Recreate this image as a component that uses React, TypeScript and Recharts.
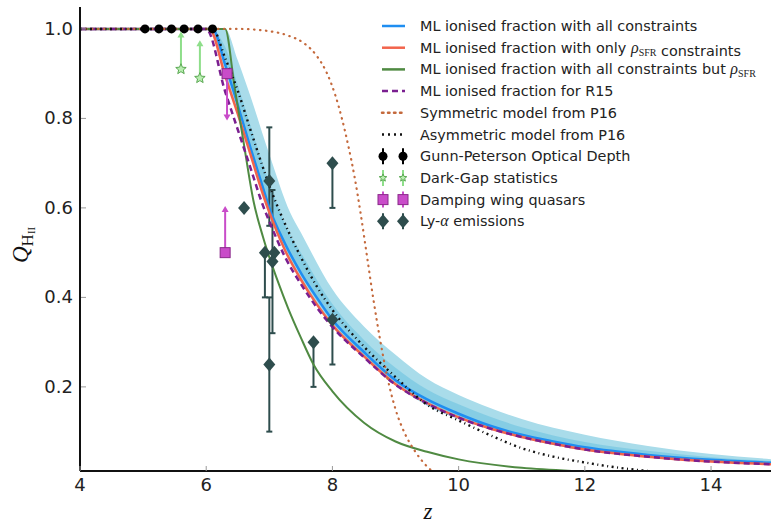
import { ComposedChart, Line, Area, Scatter, XAxis, YAxis, ErrorBar } from 'recharts';

const X_TICKS = [4, 6, 8, 10, 12, 14];
const Y_TICKS = [0.2, 0.4, 0.6, 0.8, 1.0];

// ML ionised fraction with all constraints
const allZ = [4, 6.1, 6.3, 6.5, 6.7, 6.9, 7.0, 7.25, 7.5, 7.75, 8.0, 8.5, 9.0, 9.5, 10, 10.5, 11, 11.5, 12, 13, 14, 15];
const allQ = [1, 1, 0.92, 0.83, 0.735, 0.645, 0.6, 0.52, 0.455, 0.4, 0.35, 0.278, 0.215, 0.172, 0.14, 0.113, 0.093, 0.078, 0.065, 0.048, 0.037, 0.03];

// only rho_SFR constraints
const sfrZ = [4, 6.05, 6.3, 6.5, 6.7, 6.9, 7.0, 7.25, 7.5, 7.75, 8.0, 8.5, 9.0, 9.5, 10, 10.5, 11, 11.5, 12, 13, 14, 15];
const sfrQ = [1, 1, 0.895, 0.81, 0.72, 0.63, 0.59, 0.505, 0.44, 0.385, 0.338, 0.268, 0.206, 0.164, 0.132, 0.107, 0.088, 0.073, 0.06, 0.044, 0.033, 0.027];

// all constraints but rho_SFR
const noSfrZ = [4, 6.3, 6.45, 6.6, 6.75, 6.9, 7.0, 7.15, 7.3, 7.5, 7.7, 8.0, 8.5, 9.0, 9.5, 10, 11, 12, 13, 15];
const noSfrQ = [1, 1, 0.87, 0.74, 0.615, 0.535, 0.49, 0.43, 0.375, 0.31, 0.25, 0.19, 0.12, 0.078, 0.055, 0.038, 0.019, 0.011, 0.006, 0.002];

// R15
const r15Z = [4, 6.0, 6.3, 6.5, 6.7, 6.9, 7.0, 7.25, 7.5, 7.75, 8.0, 8.5, 9.0, 9.5, 10, 10.5, 11, 11.5, 12, 13, 14, 15];
const r15Q = [1, 1, 0.86, 0.775, 0.69, 0.605, 0.57, 0.49, 0.43, 0.378, 0.334, 0.266, 0.205, 0.163, 0.131, 0.107, 0.088, 0.073, 0.06, 0.044, 0.033, 0.027];

// P16 models
const symZ = [4, 6.5, 7.0, 7.3, 7.55, 7.75, 7.9, 8.05, 8.15, 8.25, 8.35, 8.45, 8.55, 8.65, 8.75, 8.85, 9.0, 9.15, 9.3, 9.5, 9.7];
const symQ = [1, 1, 0.995, 0.985, 0.968, 0.94, 0.905, 0.85, 0.8, 0.74, 0.67, 0.585, 0.49, 0.395, 0.31, 0.235, 0.15, 0.095, 0.058, 0.022, 0.0];
const asymZ = [4, 6.1, 6.3, 6.5, 6.7, 6.9, 7.0, 7.2, 7.5, 7.75, 8.0, 8.5, 9.0, 9.5, 10, 10.5, 11, 11.5, 12, 12.5, 13, 13.5];
const asymQ = [1, 1, 0.935, 0.862, 0.775, 0.69, 0.65, 0.58, 0.49, 0.425, 0.372, 0.29, 0.222, 0.16, 0.125, 0.092, 0.063, 0.044, 0.031, 0.02, 0.012, 0.006];

// confidence bands around the all-constraints curve
const bandZ = [6.1, 6.3, 6.5, 6.7, 7.0, 7.33, 7.5, 8.0, 8.5, 9.0, 9.5, 10, 10.5, 11, 12, 13, 14, 15];
const outerLo = [1, 0.9, 0.81, 0.72, 0.59, 0.48, 0.44, 0.338, 0.266, 0.204, 0.158, 0.128, 0.105, 0.086, 0.058, 0.043, 0.032, 0.026];
const outerHi = [1, 1, 0.93, 0.85, 0.72, 0.59, 0.545, 0.418, 0.335, 0.272, 0.218, 0.182, 0.153, 0.128, 0.093, 0.068, 0.05, 0.038];
const innerLo = [1, 0.915, 0.825, 0.73, 0.595, 0.49, 0.45, 0.345, 0.272, 0.21, 0.166, 0.134, 0.11, 0.09, 0.061, 0.045, 0.034, 0.028];
const innerHi = [1, 0.96, 0.875, 0.785, 0.655, 0.54, 0.5, 0.385, 0.305, 0.243, 0.194, 0.161, 0.133, 0.11, 0.077, 0.057, 0.043, 0.034];

// observations
const gpZ = [5.03, 5.25, 5.45, 5.65, 5.87, 6.1];
const gpQ = [1, 1, 1, 1, 1, 1];

const darkGapZ = [5.6, 5.9];
const darkGapQ = [0.91, 0.89];
const darkGapUp = [0.08, 0.08];

const dampZ = [6.33, 6.3];
const dampQ = [0.9, 0.5];
const dampDown = [0.1, 0];
const dampUp = [0, 0.1];

const lyaZ = [6.6, 7.0, 6.93, 7.08, 7.05, 7.0, 7.7, 8.0, 8.0];
const lyaQ = [0.6, 0.66, 0.5, 0.5, 0.48, 0.25, 0.3, 0.7, 0.35];
const lyaLo = [0, 0.1, 0.1, 0, 0.16, 0.15, 0.1, 0.1, 0.1];
const lyaHi = [0, 0.12, 0, 0, 0.16, 0.15, 0, 0, 0];

const curve = (zs: number[], qs: number[]) => zs.map((z, i) => ({ z, q: qs[i] }));
const band = (lo: number[], hi: number[]) => bandZ.map((z, i) => ({ z, band: [lo[i], hi[i]] }));

const FONT = '"DejaVu Sans", sans-serif';
const SERIF = '"Liberation Serif", "DejaVu Serif", serif';

const C = {
  all: '#1f8ef1',
  sfr: '#f2644c',
  noSfr: '#4f8a42',
  r15: '#7a1f90',
  sym: '#c4693c',
  asym: '#111111',
  outer: '#a9dcea',
  inner: '#7cc9e2',
  gp: '#000000',
  dgFill: '#b8eeb0',
  dgEdge: '#5aa852',
  dgArrow: '#8ede8a',
  damp: '#c94cc9',
  dampEdge: '#8a2a8a',
  lya: '#2e4d4d',
};

const starPath = (cx: number, cy: number, r: number) => {
  let d = '';
  for (let i = 0; i < 10; i++) {
    const rr = i % 2 === 0 ? r : r * 0.45;
    const a = -Math.PI / 2 + (i * Math.PI) / 5;
    d += `${i === 0 ? 'M' : 'L'}${cx + rr * Math.cos(a)},${cy + rr * Math.sin(a)}`;
  }
  return d + 'Z';
};

const Circle = ({ cx, cy }: any) => <circle cx={cx} cy={cy} r={4.5} fill={C.gp} />;
const Star = ({ cx, cy }: any) => <path d={starPath(cx, cy, 5.5)} fill={C.dgFill} stroke={C.dgEdge} strokeWidth={1} />;
const Square = ({ cx, cy }: any) => (
  <rect x={cx - 5} y={cy - 5} width={10} height={10} fill={C.damp} stroke={C.dampEdge} strokeWidth={1} />
);
const Diamond = ({ cx, cy }: any) => (
  <path d={`M${cx},${cy - 7}L${cx + 6},${cy}L${cx},${cy + 7}L${cx - 6},${cy}Z`} fill={C.lya} />
);
const caret = (color: string, up: boolean) => ({ cx, cy }: any) =>
  up ? (
    <path d={`M${cx - 3.5},${cy + 4}L${cx},${cy - 2}L${cx + 3.5},${cy + 4}Z`} fill={color} />
  ) : (
    <path d={`M${cx - 3.5},${cy - 4}L${cx},${cy + 2}L${cx + 3.5},${cy - 4}Z`} fill={color} />
  );

const YTick = ({ x, y, payload }: any) => (
  <g>
    <line x1={x + 8} x2={x + 13} y1={y} y2={y} stroke="#999" strokeWidth={1} />
    <text x={x} y={y} dy={6} textAnchor="end" fontSize={18} fontFamily={FONT} fill="#222">
      {payload.value.toFixed(1)}
    </text>
  </g>
);
const XTick = ({ x, y, payload }: any) => (
  <g>
    <line x1={x} x2={x} y1={y - 7} y2={y - 12} stroke="#999" strokeWidth={1} />
    <text x={x} y={y} dy={13} textAnchor="middle" fontSize={18} fontFamily={FONT} fill="#222">
      {payload.value}
    </text>
  </g>
);
const TopTick = ({ x, y }: any) => <line x1={x} x2={x} y1={y + 1} y2={y + 6} stroke="#999" strokeWidth={1} />;

const LEGEND = [
  { kind: 'line', color: C.all, dash: undefined, label: ['ML ionised fraction with all constraints'] },
  { kind: 'line', color: C.sfr, dash: undefined, label: ['ML ionised fraction with only ', 'rho', ' constraints'] },
  { kind: 'line', color: C.noSfr, dash: undefined, label: ['ML ionised fraction with all constraints but ', 'rho'] },
  { kind: 'line', color: C.r15, dash: '6 4', label: ['ML ionised fraction for R15'] },
  { kind: 'line', color: C.sym, dash: '1.5 4.5', label: ['Symmetric model from P16'] },
  { kind: 'line', color: C.asym, dash: '2 4', label: ['Asymmetric model from P16'] },
  { kind: 'gp', color: C.gp, dash: undefined, label: ['Gunn-Peterson Optical Depth'] },
  { kind: 'dg', color: C.dgArrow, dash: undefined, label: ['Dark-Gap statistics'] },
  { kind: 'damp', color: C.damp, dash: undefined, label: ['Damping wing quasars'] },
  { kind: 'lya', color: C.lya, dash: undefined, label: ['Ly-', 'alpha', ' emissions'] },
];

function LegendMarker({ kind, color, dash, y }: any) {
  if (kind === 'line') {
    return (
      <line x1={382} x2={405} y1={y} y2={y} stroke={color} strokeWidth={2.5} strokeDasharray={dash}
        strokeLinecap={dash && dash.startsWith('1.5') ? 'round' : 'butt'} />
    );
  }
  const xs = [383, 403];
  return (
    <g>
      {xs.map((x) => (
        <g key={x}>
          <line x1={x} x2={x} y1={y - 8} y2={y + 8} stroke={color} strokeWidth={2} />
          {kind === 'gp' && <Circle cx={x} cy={y} />}
          {kind === 'dg' && <path d={starPath(x, y, 4)} fill={C.dgFill} stroke={C.dgEdge} strokeWidth={1} />}
          {kind === 'damp' && <Square cx={x} cy={y} />}
          {kind === 'lya' && <Diamond cx={x} cy={y} />}
        </g>
      ))}
    </g>
  );
}

function Overlay() {
  return (
    <svg width={771} height={523} style={{ position: 'absolute', left: 0, top: 0, pointerEvents: 'none' }}>
      {LEGEND.map((e, i) => {
        const y = 26 + i * 21.7;
        return (
          <g key={i}>
            <LegendMarker kind={e.kind} color={e.color} dash={e.dash} y={y} />
            <text x={420} y={y} dy={5} fontSize={14.4} fontFamily={FONT} fill="#222">
              {e.label.map((part, j) =>
                part === 'rho' ? (
                  <tspan key={j}>
                    <tspan fontFamily={SERIF} fontStyle="italic" fontSize={16}>ρ</tspan>
                    <tspan fontFamily={SERIF} fontSize={10} dy={3}>SFR</tspan>
                    <tspan dy={-3}>{''}</tspan>
                  </tspan>
                ) : part === 'alpha' ? (
                  <tspan key={j} fontFamily={SERIF} fontStyle="italic" fontSize={16}>α</tspan>
                ) : (
                  <tspan key={j}>{part}</tspan>
                )
              )}
            </text>
          </g>
        );
      })}
      <text transform="translate(28,263) rotate(-90)" fill="#111">
        <tspan fontFamily={SERIF} fontStyle="italic" fontSize={23}>Q</tspan>
        <tspan fontFamily={SERIF} fontSize={17} dy={5}>H</tspan>
        <tspan fontFamily={SERIF} fontSize={11} dy={2}>II</tspan>
      </text>
      <text x={428} y={519} textAnchor="middle" fontFamily={SERIF} fontStyle="italic" fontSize={23} fill="#111">
        z
      </text>
    </svg>
  );
}

export default function App() {
  const darkGap = darkGapZ.map((z, i) => ({ z, q: darkGapQ[i], err: [0, darkGapUp[i]] }));
  const darkGapTips = darkGapZ.map((z, i) => ({ z, q: darkGapQ[i] + darkGapUp[i] }));
  const damp = dampZ.map((z, i) => ({ z, q: dampQ[i], err: [dampDown[i], dampUp[i]] }));
  const dampTipsUp = dampZ.map((z, i) => ({ z, q: dampQ[i] + dampUp[i] })).filter((_, i) => dampUp[i] > 0);
  const dampTipsDown = dampZ.map((z, i) => ({ z, q: dampQ[i] - dampDown[i] })).filter((_, i) => dampDown[i] > 0);
  const lya = lyaZ.map((z, i) => ({ z, q: lyaQ[i], err: [lyaLo[i], lyaHi[i]] }));

  return (
    <div style={{ position: 'absolute', left: 0, top: 0, width: 771, height: 523, background: '#fff' }}>
      <ComposedChart width={771} height={523} margin={{ top: 7, right: 0, bottom: 0, left: 0 }}>
        <XAxis
          type="number"
          dataKey="z"
          domain={[4, 14.95]}
          ticks={X_TICKS}
          allowDataOverflow
          height={52}
          tickSize={0}
          tickMargin={7}
          tick={<XTick />}
          axisLine={{ stroke: '#111', strokeWidth: 2 }}
        />
        <XAxis
          xAxisId="top"
          orientation="top"
          type="number"
          dataKey="z"
          domain={[4, 14.95]}
          ticks={X_TICKS}
          allowDataOverflow
          height={0}
          tickSize={0}
          tick={<TopTick />}
          axisLine={{ stroke: '#111', strokeWidth: 2 }}
        />
        <YAxis
          type="number"
          domain={[0.012, 1.049]}
          ticks={Y_TICKS}
          allowDataOverflow
          width={80}
          tickSize={0}
          tickMargin={7}
          tick={<YTick />}
          axisLine={{ stroke: '#111', strokeWidth: 2 }}
        />

        <Area data={band(outerLo, outerHi)} dataKey="band" type="monotone" stroke="none" fill={C.outer} fillOpacity={1} isAnimationActive={false} />
        <Area data={band(innerLo, innerHi)} dataKey="band" type="monotone" stroke="none" fill={C.inner} fillOpacity={0.8} isAnimationActive={false} />

        <Scatter data={lya} dataKey="q" shape={<Diamond />} isAnimationActive={false}>
          <ErrorBar dataKey="err" direction="y" width={3} stroke={C.lya} strokeWidth={2} />
        </Scatter>

        <Line data={curve(allZ, allQ)} dataKey="q" type="monotone" stroke={C.all} strokeWidth={2.5} dot={false} isAnimationActive={false} />
        <Line data={curve(sfrZ, sfrQ)} dataKey="q" type="monotone" stroke={C.sfr} strokeWidth={2.5} dot={false} isAnimationActive={false} />
        <Line data={curve(noSfrZ, noSfrQ)} dataKey="q" type="monotone" stroke={C.noSfr} strokeWidth={2} dot={false} isAnimationActive={false} />
        <Line data={curve(r15Z, r15Q)} dataKey="q" type="monotone" stroke={C.r15} strokeWidth={2.5} strokeDasharray="6 4" dot={false} isAnimationActive={false} />
        <Line data={curve(symZ, symQ)} dataKey="q" type="monotone" stroke={C.sym} strokeWidth={2.2} strokeDasharray="0.5 5.5" strokeLinecap="round" dot={false} isAnimationActive={false} />
        <Line data={curve(asymZ, asymQ)} dataKey="q" type="monotone" stroke={C.asym} strokeWidth={2.4} strokeDasharray="2 3.5 1 3.5" dot={false} isAnimationActive={false} />

        <Scatter data={curve(gpZ, gpQ)} dataKey="q" shape={<Circle />} isAnimationActive={false} />
        <Scatter data={darkGap} dataKey="q" shape={() => null} isAnimationActive={false}>
          <ErrorBar dataKey="err" direction="y" width={0} stroke={C.dgArrow} strokeWidth={2} />
        </Scatter>
        <Scatter data={darkGapTips} dataKey="q" shape={caret(C.dgArrow, true)} isAnimationActive={false} />
        <Scatter data={curve(darkGapZ, darkGapQ)} dataKey="q" shape={<Star />} isAnimationActive={false} />
        <Scatter data={damp} dataKey="q" shape={() => null} isAnimationActive={false}>
          <ErrorBar dataKey="err" direction="y" width={0} stroke={C.damp} strokeWidth={2} />
        </Scatter>
        <Scatter data={dampTipsUp} dataKey="q" shape={caret(C.damp, true)} isAnimationActive={false} />
        <Scatter data={dampTipsDown} dataKey="q" shape={caret(C.damp, false)} isAnimationActive={false} />
        <Scatter data={curve(dampZ, dampQ)} dataKey="q" shape={<Square />} isAnimationActive={false} />
      </ComposedChart>
      <Overlay />
    </div>
  );
}
